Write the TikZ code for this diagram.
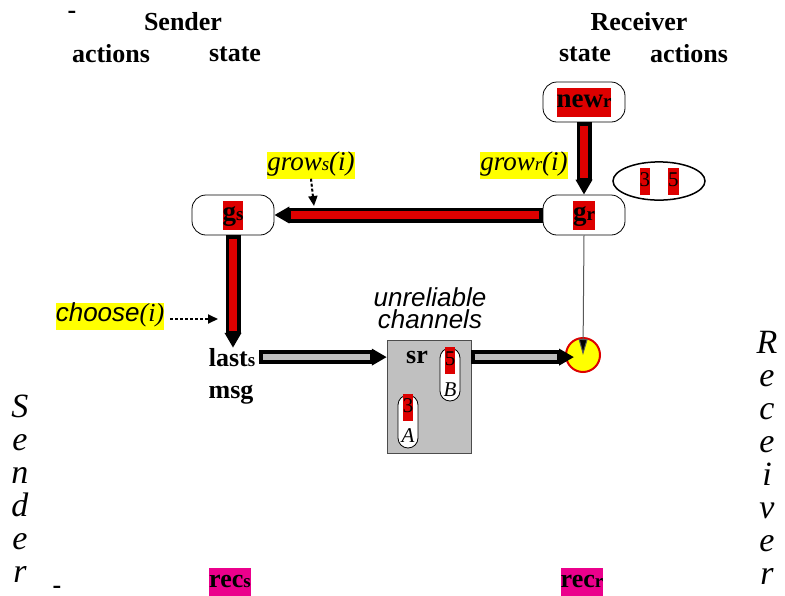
\documentclass[tikz,border=0pt]{standalone}
\usepackage{fontspec}
\setmainfont{Liberation Serif}
\setsansfont{Liberation Sans}
\usetikzlibrary{arrows.meta,shapes.geometric,positioning}

\definecolor{chanred}{RGB}{221,0,0}
\definecolor{markyellow}{RGB}{255,255,0}
\definecolor{recmag}{RGB}{235,0,140}
\definecolor{changray}{RGB}{192,192,192}
\definecolor{pipegray}{RGB}{190,190,190}

\newcommand\hl[2]{{\fboxsep=0pt\colorbox{#1}{\strut #2}}}
\newcommand\sub[1]{{\fontsize{19}{19}\selectfont #1}}

\tikzset{
  head/.style={
    font=\fontsize{26}{28}\selectfont\bfseries,
    inner sep=0pt
  },
  statebox/.style={
    draw,
    thick,
    rounded corners=14pt,
    minimum width=82pt,
    minimum height=40pt,
    inner sep=0pt,
    font=\fontsize{27}{29}\selectfont\bfseries
  },
  bag/.style={
    shape=ellipse,
    draw,
    line width=1.5pt,
    minimum width=92pt,
    minimum height=36pt,
    inner sep=0pt,
    font=\fontsize{21}{27}\selectfont
  },
  action/.style={
    inner sep=0pt,
    font=\fontsize{27}{27}\selectfont
  },
  chanbox/.style={
    draw=black!70,
    fill=changray,
    minimum width=84pt,
    minimum height=113pt,
    inner sep=0pt
  },
  capsule/.style={
    draw,
    fill=white,
    thick,
    rounded corners=10pt,
    minimum width=20pt,
    minimum height=53pt,
    inner sep=0pt
  },
  digit/.style={
    inner sep=0pt,
    font=\fontsize{21}{27}\selectfont
  },
  tag/.style={
    inner sep=0pt,
    font=\fontsize{21}{24}\selectfont\itshape
  },
  vletter/.style={
    inner sep=0pt,
    font=\fontsize{34}{34}\selectfont\itshape
  },
  dest/.style={
    shape=circle,
    draw=chanred,
    line width=2pt,
    fill=markyellow,
    minimum size=34pt,
    inner sep=0pt
  },
  pipe/.style={
    line width=15pt,
    -{Triangle[length=15pt,width=16pt]}
  },
  pipecore/.style={
    line width=8pt,
    shorten <=3.5pt,
    shorten >=17pt
  },
  trigger/.style={
    line width=2pt,
    dash pattern=on 3pt off 2pt,
    -{Triangle[length=10pt,width=9pt]}
  },
  signal/.style={
    line width=1pt,
    draw=black!65,
    -{Triangle[length=16pt,width=9pt,fill=black]}
  }
}

\begin{document}
\begin{tikzpicture}[x=1pt,y=-1pt]
    \useasboundingbox (0,0) rectangle (785,595);

    % headings
    \node[head] (dashtop) at (72,15) {-};
    \node[head] (sndtitle) at (183,22) {Sender};
    \node[head] (sndact) at (111,54) {actions};
    \node[head] (sndstate) at (235,54) {state};
    \node[head] (rcvtitle) at (639,22) {Receiver};
    \node[head] (rcvstate) at (585,54) {state};
    \node[head] (rcvact) at (689,54) {actions};

    % state boxes
    \node[statebox] (newr) at (584,102) {\hl{chanred}{new\sub{r}}};
    \node[statebox] (gr) at (584,215) {\hl{chanred}{g\sub{r}}};
    \node[statebox] (gs) at (233,215) {\hl{chanred}{g\sub{s}}};
    \node[bag] (grbag) at (659,181) {\hl{chanred}{3}\hspace{18pt}\hl{chanred}{5}};

    % actions
    \node[action] (grows) at (311,165) {\hl{markyellow}{\textit{grow\sub{s}(i)}}};
    \node[action] (growr) at (524,165) {\hl{markyellow}{\textit{grow\sub{r}(i)}}};
    \node[action, font=\fontsize{26}{27}\selectfont] (choose) at (110,316) {\hl{markyellow}{{\sffamily\itshape choose}\textit{(i)}}};
    \coordinate (gstip) at (314,206);
    \coordinate (chtip) at (218,319);
    \draw[trigger] (grows.south) -- (gstip);
    \draw[trigger, shorten <=6pt] (choose.east |- chtip) -- (chtip);

    % sender variables
    \node[head, anchor=base] (lasts) at (232,366) {last\sub{s}};
    \node[head, anchor=base] (msg) at (231,398) {msg};

    % channel
    \node[action, font=\fontsize{26}{22}\selectfont\sffamily\itshape, align=center] (chanlbl) at (430,308) {unreliable\\channels};
    \node[chanbox] (chan) at (429,396.5) {};
    \node[head, anchor=base] (sr) at (417,363) {sr};
    \node[capsule] (capB) at (450,374.5) {};
    \node[digit, anchor=north] (valB) at ([yshift=1pt]capB.north) {\hl{chanred}{5}};
    \node[tag] (lblB) at (450,390) {B};
    \node[capsule] (capA) at (408,421.5) {};
    \node[digit, anchor=north] (valA) at ([yshift=1pt]capA.north) {\hl{chanred}{3}};
    \node[tag] (lblA) at (408,436) {A};

    % receiver input
    \node[dest] (dest) at (583,355) {};
    \coordinate (rtip) at (574,0 |- lasts.east);

    % pipes
    \draw[pipe] (newr.south) -- (gr.north);
    \draw[pipecore, chanred] (newr.south) -- (gr.north);
    \draw[pipe] (gr.west) -- (gs.east);
    \draw[pipecore, chanred] (gr.west) -- (gs.east);
    \draw[pipe] (gs.south) -- (gs.south |- lasts.north);
    \draw[pipecore, chanred] (gs.south) -- (gs.south |- lasts.north);
    \draw[pipe, line width=14pt] ([xshift=4pt]lasts.east) -- (chan.west |- lasts.east);
    \draw[pipecore, pipegray, line width=6pt] ([xshift=4pt]lasts.east) -- (chan.west |- lasts.east);
    \draw[pipe, line width=14pt] (chan.east |- rtip) -- (rtip);
    \draw[pipecore, pipegray, line width=6pt] (chan.east |- rtip) -- (rtip);
    \draw[signal] (gr.south) -- (dest.center);

    % side labels
    \foreach \ch [count=\k] in {S,e,n,d,e,r}
        \node[vletter, anchor=base] (snd\k) at (20,{417+33*(\k-1)}) {\ch};
    \foreach \ch [count=\k] in {R,e,c,e,i,v,e,r}
        \node[vletter, anchor=base] (rcv\k) at (767,{353+33*(\k-1)}) {\ch};
    \node[head] (dashbot) at (57,590) {-};

    % records
    \node[head] (recs) at (230,582) {\hl{recmag}{rec\sub{s}}};
    \node[head] (recr) at (582,582) {\hl{recmag}{rec\sub{r}}};
\end{tikzpicture}
\end{document}
